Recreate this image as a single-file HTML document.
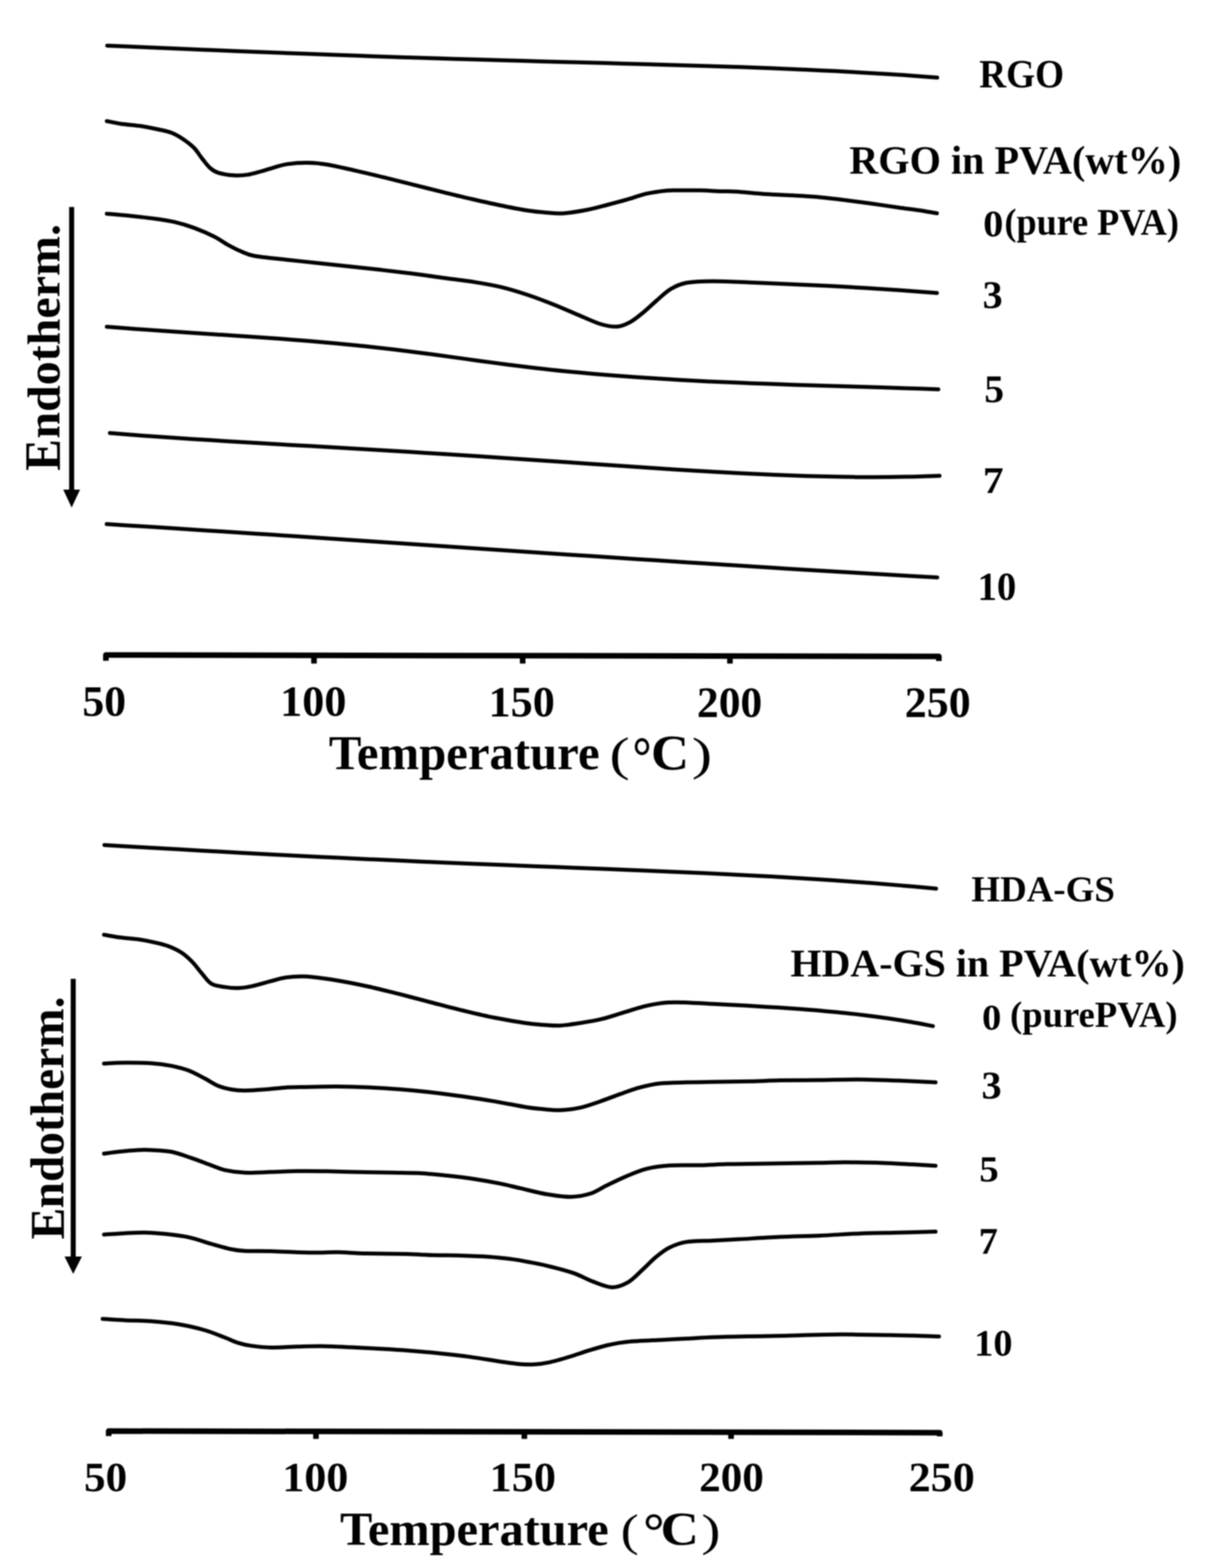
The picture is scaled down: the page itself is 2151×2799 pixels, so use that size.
<!DOCTYPE html>
<html><head><meta charset="utf-8"><title>DSC curves</title>
<style>html,body{margin:0;padding:0;background:#fff;}body{width:2151px;height:2799px;overflow:hidden;}svg{display:block;filter:blur(1.2px);}</style>
</head><body>
<svg width="2151" height="2799" viewBox="0 0 2151 2799" font-family='"Liberation Serif", "Times New Roman", serif' font-weight="bold" fill="#000">
<path d="M191.4,81.4 C201.3,81.8 230.9,83.1 250.7,83.9 C270.4,84.8 290.1,85.7 309.9,86.5 C329.6,87.3 349.4,88.2 369.2,89.0 C389.0,89.8 408.8,90.6 428.5,91.4 C448.2,92.2 467.9,93.0 487.7,93.8 C507.4,94.6 527.2,95.3 547.0,96.1 C566.8,96.8 586.5,97.6 606.2,98.3 C626.0,99.0 645.7,99.7 665.5,100.4 C685.3,101.1 705.0,101.8 724.8,102.4 C744.5,103.1 764.2,103.7 784.0,104.3 C803.8,104.9 823.5,105.5 843.3,106.1 C863.1,106.7 882.9,107.2 902.6,107.8 C922.4,108.3 942.0,108.9 961.8,109.4 C981.5,109.9 1001.3,110.5 1021.1,111.0 C1040.9,111.5 1060.7,112.1 1080.4,112.6 C1100.2,113.1 1119.8,113.7 1139.6,114.2 C1159.3,114.8 1179.1,115.3 1198.9,115.9 C1218.7,116.5 1238.5,117.1 1258.2,117.7 C1278.0,118.3 1297.7,118.9 1317.4,119.6 C1337.2,120.3 1357.0,121.0 1376.7,121.8 C1396.5,122.6 1416.2,123.4 1435.9,124.3 C1455.7,125.2 1475.4,126.1 1495.2,127.1 C1515.0,128.1 1534.8,129.2 1554.5,130.4 C1574.2,131.6 1594.0,132.8 1613.7,134.1 C1633.5,135.4 1663.1,137.8 1673.0,138.5" fill="none" stroke="#000" stroke-width="7.0" stroke-linecap="round" stroke-linejoin="round"/>
<path d="M190.7,216.2 C194.9,217.0 205.6,219.5 215.7,221.0 C225.8,222.5 240.7,223.4 251.4,225.0 C262.1,226.6 270.9,228.5 280.0,230.5 C289.1,232.5 298.3,233.8 306.2,236.9 C314.1,240.0 320.9,244.2 327.6,248.8 C334.4,253.4 341.1,258.6 346.7,264.3 C352.3,270.1 356.2,277.4 361.0,283.3 C365.8,289.2 370.4,295.8 375.2,300.0 C379.9,304.2 382.4,306.1 389.5,308.3 C396.6,310.5 409.4,312.5 418.1,313.1 C426.8,313.7 434.0,313.1 441.9,311.9 C449.8,310.7 457.8,308.2 465.7,306.0 C473.6,303.8 481.6,301.0 489.5,298.8 C497.4,296.6 503.4,294.3 513.3,292.9 C523.2,291.5 537.2,290.4 549.0,290.5 C560.8,290.6 569.5,291.3 583.8,293.7 C598.1,296.1 617.7,300.8 634.7,304.6 C651.7,308.4 668.6,312.6 685.6,316.7 C702.6,320.8 719.5,325.2 736.5,329.4 C753.5,333.6 770.3,337.9 787.3,342.1 C804.2,346.3 821.2,350.5 838.2,354.4 C855.2,358.3 872.1,362.2 889.1,365.7 C906.1,369.2 925.6,373.2 940.0,375.5 C954.4,377.8 964.6,378.6 975.7,379.5 C986.8,380.4 994.8,381.5 1006.7,380.7 C1018.6,379.9 1034.4,377.2 1047.1,374.8 C1059.8,372.4 1071.0,369.1 1082.9,366.0 C1094.8,362.9 1106.7,359.8 1118.6,356.4 C1130.5,353.0 1142.4,348.4 1154.3,345.7 C1166.2,343.0 1180.1,341.2 1190.0,340.2 C1199.9,339.2 1203.9,339.9 1213.8,339.8 C1223.7,339.7 1237.6,339.5 1249.5,339.8 C1261.4,340.1 1274.5,341.0 1285.2,341.4 C1295.9,341.8 1300.1,341.1 1313.8,342.0 C1327.5,342.9 1350.7,345.5 1367.6,346.6 C1384.5,347.7 1400.1,348.0 1415.2,348.8 C1430.3,349.6 1442.2,350.1 1458.1,351.5 C1474.0,352.9 1493.8,355.4 1510.5,357.5 C1527.2,359.6 1542.2,361.6 1558.1,363.8 C1574.0,366.0 1591.8,368.8 1605.7,370.7 C1619.6,372.6 1630.3,373.8 1641.4,375.5 C1652.5,377.2 1667.2,379.8 1672.4,380.7" fill="none" stroke="#000" stroke-width="7.0" stroke-linecap="round" stroke-linejoin="round"/>
<path d="M190.7,381.4 C196.8,382.0 213.5,383.3 227.6,384.8 C241.7,386.3 261.3,388.3 275.2,390.2 C289.1,392.1 299.1,393.4 311.0,396.2 C322.9,399.0 334.8,402.5 346.7,406.9 C358.6,411.3 372.5,417.4 382.4,422.4 C392.3,427.4 398.3,432.3 406.2,436.7 C414.1,441.1 422.1,445.3 430.0,448.6 C437.9,451.9 440.5,454.2 453.8,456.7 C467.1,459.2 491.2,461.3 510.0,463.4 C528.8,465.5 547.5,467.5 566.3,469.5 C585.0,471.5 603.8,473.4 622.5,475.4 C641.2,477.4 660.0,479.5 678.8,481.6 C697.5,483.8 716.2,485.9 735.0,488.3 C753.8,490.7 772.5,493.4 791.3,496.0 C810.1,498.6 830.3,500.8 847.6,503.6 C864.9,506.4 879.3,508.8 895.2,512.6 C911.1,516.5 927.0,521.4 942.9,526.7 C958.8,532.0 974.6,538.1 990.5,544.5 C1006.4,550.9 1024.2,559.0 1038.1,564.8 C1052.0,570.5 1063.1,576.0 1073.8,579.0 C1084.5,582.0 1093.5,583.6 1102.2,582.9 C1110.9,582.1 1117.8,578.9 1125.7,574.5 C1133.6,570.1 1142.0,562.9 1149.5,556.7 C1157.0,550.5 1163.1,544.3 1171.0,537.5 C1178.9,530.7 1188.0,521.5 1197.1,516.0 C1206.2,510.6 1213.0,507.2 1225.7,504.8 C1238.4,502.4 1254.2,502.0 1273.3,501.9 C1292.3,501.8 1316.3,503.4 1340.0,504.3 C1363.7,505.2 1386.8,506.1 1415.2,507.4 C1443.6,508.7 1478.8,510.3 1510.5,512.1 C1542.2,513.9 1578.7,516.3 1605.7,518.1 C1632.7,519.9 1661.3,522.1 1672.4,522.9" fill="none" stroke="#000" stroke-width="7.0" stroke-linecap="round" stroke-linejoin="round"/>
<path d="M190.7,583.3 C199.2,584.0 224.8,586.0 241.9,587.3 C259.0,588.5 276.1,589.6 293.1,590.8 C310.2,591.9 327.1,593.1 344.2,594.2 C361.2,595.3 378.3,596.5 395.4,597.6 C412.5,598.7 429.5,599.8 446.6,601.0 C463.7,602.2 480.7,603.4 497.8,604.6 C514.9,605.9 531.9,607.1 549.0,608.5 C566.1,609.9 583.2,611.3 600.2,612.9 C617.2,614.5 634.2,616.1 651.3,617.9 C668.3,619.7 685.4,621.7 702.5,623.7 C719.6,625.8 736.6,628.0 753.7,630.2 C770.8,632.4 787.8,634.8 804.9,637.1 C822.0,639.4 839.0,641.9 856.1,644.2 C873.2,646.5 890.2,648.8 907.3,651.0 C924.3,653.2 941.3,655.2 958.4,657.2 C975.5,659.2 992.5,661.0 1009.6,662.7 C1026.7,664.4 1043.7,665.9 1060.8,667.4 C1077.9,668.9 1094.9,670.3 1112.0,671.6 C1129.1,672.9 1146.1,674.0 1163.2,675.1 C1180.3,676.2 1197.4,677.2 1214.4,678.2 C1231.5,679.2 1248.5,680.1 1265.5,680.9 C1282.5,681.7 1299.6,682.4 1316.7,683.1 C1333.8,683.8 1350.8,684.5 1367.9,685.1 C1385.0,685.7 1402.0,686.3 1419.1,686.9 C1436.2,687.5 1453.2,688.1 1470.3,688.6 C1487.4,689.1 1504.5,689.6 1521.5,690.1 C1538.5,690.6 1555.5,691.1 1572.6,691.6 C1589.6,692.1 1606.7,692.7 1623.8,693.2 C1640.9,693.8 1666.5,694.6 1675.0,694.9" fill="none" stroke="#000" stroke-width="7.0" stroke-linecap="round" stroke-linejoin="round"/>
<path d="M196.2,773.1 C206.1,773.9 235.7,776.2 255.4,777.7 C275.1,779.2 294.9,780.5 314.7,781.8 C334.4,783.1 354.2,784.4 373.9,785.6 C393.6,786.8 413.4,788.0 433.1,789.2 C452.9,790.4 472.6,791.6 492.4,792.7 C512.1,793.9 531.9,795.0 551.6,796.1 C571.4,797.2 591.1,798.5 610.9,799.6 C630.6,800.8 650.4,801.8 670.1,803.0 C689.8,804.2 709.5,805.4 729.3,806.6 C749.0,807.8 768.9,809.0 788.6,810.3 C808.4,811.5 828.1,812.8 847.8,814.1 C867.5,815.4 887.2,816.7 907.0,818.0 C926.8,819.3 946.5,820.7 966.3,822.0 C986.0,823.3 1005.8,824.6 1025.5,826.0 C1045.2,827.4 1065.0,828.8 1084.7,830.1 C1104.5,831.4 1124.2,832.7 1144.0,834.0 C1163.8,835.3 1183.5,836.6 1203.2,837.9 C1222.9,839.1 1242.7,840.4 1262.4,841.5 C1282.2,842.6 1302.0,843.7 1321.7,844.7 C1341.5,845.7 1361.2,846.7 1380.9,847.5 C1400.7,848.3 1420.5,849.1 1440.2,849.7 C1460.0,850.3 1479.7,850.8 1499.4,851.1 C1519.1,851.4 1538.8,851.7 1558.6,851.7 C1578.3,851.7 1598.2,851.5 1617.9,851.1 C1637.7,850.7 1667.2,849.6 1677.1,849.3" fill="none" stroke="#000" stroke-width="7.0" stroke-linecap="round" stroke-linejoin="round"/>
<path d="M190.5,935.6 C200.4,936.2 230.0,938.1 249.8,939.3 C269.6,940.5 289.3,941.7 309.1,943.0 C328.9,944.3 348.6,945.6 368.4,946.9 C388.2,948.2 407.9,949.4 427.7,950.7 C447.5,952.0 467.2,953.3 487.0,954.6 C506.8,955.9 526.5,957.3 546.3,958.6 C566.1,959.9 585.8,961.2 605.6,962.5 C625.4,963.8 645.1,965.2 664.9,966.5 C684.7,967.8 704.4,969.2 724.2,970.5 C744.0,971.8 763.7,973.2 783.5,974.5 C803.3,975.8 823.0,977.2 842.8,978.5 C862.6,979.8 882.3,981.1 902.1,982.4 C921.9,983.7 941.6,985.1 961.4,986.4 C981.2,987.7 1000.9,989.1 1020.7,990.4 C1040.5,991.7 1060.2,993.0 1080.0,994.3 C1099.8,995.6 1119.5,996.9 1139.3,998.2 C1159.1,999.5 1178.8,1000.7 1198.6,1002.0 C1218.4,1003.3 1238.1,1004.5 1257.9,1005.8 C1277.7,1007.1 1297.4,1008.4 1317.2,1009.6 C1337.0,1010.9 1356.7,1012.1 1376.5,1013.3 C1396.3,1014.5 1416.0,1015.8 1435.8,1017.0 C1455.6,1018.2 1475.3,1019.3 1495.1,1020.5 C1514.9,1021.7 1534.6,1022.9 1554.4,1024.0 C1574.2,1025.2 1593.9,1026.3 1613.7,1027.4 C1633.5,1028.5 1663.1,1030.2 1673.0,1030.8" fill="none" stroke="#000" stroke-width="7.0" stroke-linecap="round" stroke-linejoin="round"/>
<path d="M186.4,1508.4 C196.3,1509.0 226.0,1510.8 245.8,1511.9 C265.6,1513.1 285.4,1514.2 305.2,1515.3 C325.0,1516.4 344.8,1517.6 364.6,1518.7 C384.4,1519.8 404.1,1520.9 423.9,1522.0 C443.7,1523.1 463.5,1524.2 483.3,1525.2 C503.1,1526.2 522.9,1527.2 542.7,1528.2 C562.5,1529.2 582.3,1530.1 602.1,1531.1 C621.9,1532.0 641.7,1533.0 661.5,1533.9 C681.3,1534.8 701.1,1535.7 720.9,1536.6 C740.7,1537.5 760.4,1538.3 780.2,1539.2 C800.0,1540.1 819.8,1540.9 839.6,1541.7 C859.4,1542.5 879.2,1543.3 899.0,1544.1 C918.8,1544.9 938.6,1545.6 958.4,1546.4 C978.2,1547.2 998.0,1547.9 1017.8,1548.7 C1037.6,1549.5 1057.4,1550.3 1077.2,1551.1 C1097.0,1551.9 1116.7,1552.6 1136.5,1553.4 C1156.3,1554.2 1176.1,1555.0 1195.9,1555.9 C1215.7,1556.8 1235.5,1557.7 1255.3,1558.6 C1275.1,1559.5 1294.9,1560.4 1314.7,1561.4 C1334.5,1562.4 1354.3,1563.4 1374.1,1564.5 C1393.9,1565.6 1413.7,1566.7 1433.5,1567.9 C1453.3,1569.1 1473.0,1570.4 1492.8,1571.7 C1512.6,1573.0 1532.4,1574.5 1552.2,1576.0 C1572.0,1577.5 1591.8,1579.2 1611.6,1580.9 C1631.4,1582.6 1661.1,1585.4 1671.0,1586.3" fill="none" stroke="#000" stroke-width="7.0" stroke-linecap="round" stroke-linejoin="round"/>
<path d="M185.7,1668.6 C190.3,1669.4 203.0,1671.9 213.1,1673.3 C223.2,1674.7 236.1,1675.2 246.4,1676.7 C256.7,1678.2 265.9,1680.0 275.0,1682.1 C284.1,1684.2 292.9,1686.1 301.2,1689.3 C309.5,1692.5 317.9,1696.4 325.0,1701.2 C332.1,1706.0 338.1,1711.8 344.0,1717.9 C349.9,1724.1 355.1,1731.8 360.7,1738.1 C366.3,1744.4 370.6,1752.0 377.4,1756.0 C384.1,1760.0 393.3,1760.6 401.2,1761.9 C409.1,1763.2 417.1,1764.0 425.0,1763.8 C432.9,1763.6 438.9,1762.8 448.8,1760.7 C458.7,1758.6 474.6,1753.8 484.5,1751.2 C494.4,1748.6 498.4,1746.6 508.3,1745.2 C518.2,1743.8 528.6,1742.3 544.0,1743.1 C559.4,1743.9 581.8,1747.0 600.6,1750.0 C619.5,1753.0 638.2,1756.9 657.1,1761.0 C676.0,1765.1 694.8,1770.0 713.7,1774.7 C732.6,1779.5 751.4,1784.6 770.3,1789.5 C789.2,1794.4 808.0,1799.5 826.9,1804.0 C845.8,1808.5 864.5,1813.0 883.4,1816.8 C902.2,1820.5 925.4,1824.4 940.0,1826.5 C954.6,1828.6 961.1,1828.8 971.0,1829.5 C980.9,1830.2 988.8,1831.2 999.5,1830.7 C1010.2,1830.2 1022.7,1828.3 1035.2,1826.3 C1047.7,1824.3 1061.5,1822.1 1074.6,1818.9 C1087.7,1815.7 1100.9,1811.0 1114.0,1807.1 C1127.1,1803.2 1140.2,1798.5 1153.3,1795.6 C1166.4,1792.7 1179.6,1790.5 1192.7,1789.6 C1205.8,1788.6 1219.0,1789.5 1232.1,1789.9 C1245.2,1790.3 1258.4,1791.3 1271.5,1792.0 C1284.6,1792.7 1297.7,1793.3 1310.8,1794.0 C1323.9,1794.7 1337.1,1795.4 1350.2,1796.2 C1363.3,1797.0 1376.5,1797.8 1389.6,1798.6 C1402.7,1799.4 1415.9,1800.3 1429.0,1801.3 C1442.1,1802.3 1455.2,1803.3 1468.3,1804.5 C1481.4,1805.7 1494.6,1806.8 1507.7,1808.2 C1520.8,1809.6 1534.0,1811.1 1547.1,1812.7 C1560.2,1814.3 1573.4,1816.1 1586.5,1818.0 C1599.6,1819.9 1612.7,1822.0 1625.8,1824.3 C1638.9,1826.6 1658.6,1830.4 1665.2,1831.6" fill="none" stroke="#000" stroke-width="7.0" stroke-linecap="round" stroke-linejoin="round"/>
<path d="M185.7,1898.6 C191.8,1898.3 208.5,1897.2 222.6,1897.1 C236.7,1897.0 256.3,1897.0 270.2,1897.9 C284.1,1898.8 294.9,1900.4 306.0,1902.6 C317.1,1904.8 327.0,1907.2 336.9,1911.0 C346.8,1914.8 356.8,1920.7 365.5,1925.2 C374.2,1929.8 381.4,1935.0 389.3,1938.3 C397.2,1941.6 405.2,1943.4 413.1,1944.8 C421.0,1946.2 427.0,1946.7 436.9,1946.7 C446.8,1946.7 460.7,1945.7 472.6,1944.8 C484.5,1943.9 496.4,1942.1 508.3,1941.4 C520.2,1940.7 528.6,1940.7 544.0,1940.4 C559.4,1940.1 581.8,1939.5 600.6,1939.6 C619.5,1939.7 638.2,1940.2 657.1,1941.0 C676.0,1941.8 694.8,1943.0 713.7,1944.5 C732.6,1946.0 751.4,1947.8 770.3,1949.9 C789.2,1952.0 808.0,1954.5 826.9,1957.2 C845.8,1959.9 864.5,1962.9 883.4,1966.1 C902.2,1969.3 925.8,1974.2 940.0,1976.5 C954.2,1978.8 958.7,1978.9 968.6,1979.8 C978.5,1980.7 988.4,1982.1 999.5,1981.7 C1010.6,1981.3 1023.3,1980.0 1035.2,1977.4 C1047.1,1974.8 1059.1,1970.2 1071.0,1966.2 C1082.9,1962.2 1094.8,1957.3 1106.7,1953.1 C1118.6,1948.9 1130.5,1944.4 1142.4,1941.2 C1154.3,1938.0 1164.2,1935.5 1178.1,1934.0 C1192.0,1932.5 1209.8,1932.6 1225.7,1932.1 C1241.6,1931.6 1254.2,1931.5 1273.3,1931.2 C1292.3,1930.9 1320.3,1930.6 1340.0,1930.2 C1359.7,1929.8 1370.9,1929.0 1391.4,1928.6 C1411.9,1928.2 1439.1,1928.2 1462.9,1927.9 C1486.7,1927.6 1510.5,1926.7 1534.3,1926.9 C1558.1,1927.1 1583.1,1928.1 1605.7,1929.0 C1628.3,1929.9 1659.3,1931.6 1670.0,1932.1" fill="none" stroke="#000" stroke-width="7.0" stroke-linecap="round" stroke-linejoin="round"/>
<path d="M185.7,2059.3 C189.9,2058.8 200.6,2057.1 210.7,2056.0 C220.8,2054.9 236.5,2053.4 246.4,2052.9 C256.3,2052.4 260.3,2052.4 270.2,2052.9 C280.1,2053.4 294.1,2053.6 306.0,2056.0 C317.9,2058.4 329.8,2063.1 341.7,2067.1 C353.6,2071.1 367.5,2076.6 377.4,2080.2 C387.3,2083.8 391.3,2086.4 401.2,2088.6 C411.1,2090.8 423.0,2092.7 436.9,2093.3 C450.8,2093.9 468.6,2092.6 484.5,2092.1 C500.4,2091.6 515.6,2090.8 532.1,2090.6 C548.6,2090.4 563.3,2090.5 583.8,2090.8 C604.3,2091.1 635.4,2092.2 655.2,2092.6 C675.1,2093.0 687.0,2093.0 702.9,2093.3 C718.8,2093.6 734.6,2093.4 750.5,2094.3 C766.4,2095.2 782.2,2096.9 798.1,2098.6 C814.0,2100.3 829.8,2102.1 845.7,2104.5 C861.6,2106.9 879.4,2110.1 893.3,2112.9 C907.2,2115.7 915.3,2118.1 929.0,2121.2 C942.7,2124.3 960.8,2129.2 975.7,2131.7 C990.6,2134.2 1005.5,2136.6 1018.6,2136.4 C1031.7,2136.2 1043.6,2133.9 1054.3,2130.5 C1065.0,2127.1 1072.2,2121.4 1082.9,2116.2 C1093.6,2111.0 1106.7,2104.5 1118.6,2099.5 C1130.5,2094.5 1141.6,2089.6 1154.3,2086.4 C1167.0,2083.2 1178.9,2081.6 1194.8,2080.5 C1210.7,2079.4 1232.5,2080.4 1249.5,2080.0 C1266.5,2079.6 1282.0,2078.5 1297.1,2078.1 C1312.2,2077.7 1324.3,2077.7 1340.0,2077.5 C1355.7,2077.3 1370.9,2077.0 1391.4,2076.7 C1411.9,2076.4 1443.1,2076.0 1462.9,2075.7 C1482.8,2075.4 1490.7,2074.7 1510.5,2074.8 C1530.3,2074.9 1562.1,2075.6 1581.9,2076.2 C1601.7,2076.8 1614.8,2077.8 1629.5,2078.6 C1644.2,2079.4 1663.2,2080.6 1670.0,2081.0" fill="none" stroke="#000" stroke-width="7.0" stroke-linecap="round" stroke-linejoin="round"/>
<path d="M185.7,2203.8 C191.8,2203.4 210.5,2202.0 222.6,2201.4 C234.7,2200.8 246.4,2200.0 258.3,2200.2 C270.2,2200.4 280.9,2201.2 294.0,2202.6 C307.1,2204.0 323.0,2205.6 336.9,2208.6 C350.8,2211.6 364.7,2216.9 377.4,2220.5 C390.1,2224.1 403.2,2227.9 413.1,2230.0 C423.0,2232.1 425.0,2232.3 436.9,2232.9 C448.8,2233.5 468.6,2233.2 484.5,2233.6 C500.4,2234.0 517.0,2235.1 532.1,2235.5 C547.2,2235.9 563.2,2236.0 575.0,2236.0 C586.8,2236.0 589.5,2235.0 602.9,2235.3 C616.3,2235.6 634.6,2237.1 655.2,2237.6 C675.8,2238.1 706.9,2238.1 726.7,2238.6 C746.6,2239.1 758.4,2240.1 774.3,2240.5 C790.2,2240.9 806.0,2240.8 821.9,2241.3 C837.8,2241.8 853.6,2242.2 869.5,2243.3 C885.4,2244.4 905.4,2246.6 917.1,2248.1 C928.9,2249.6 930.2,2250.2 940.0,2252.1 C949.8,2254.0 961.8,2255.9 975.7,2259.3 C989.6,2262.7 1009.4,2267.6 1023.3,2272.4 C1037.2,2277.2 1047.5,2283.7 1059.0,2287.9 C1070.5,2292.2 1082.1,2297.7 1092.4,2297.9 C1102.7,2298.1 1111.9,2294.2 1121.0,2289.0 C1130.1,2283.8 1138.8,2273.9 1147.1,2266.4 C1155.4,2258.9 1163.0,2250.4 1171.0,2243.8 C1179.0,2237.2 1185.7,2231.6 1194.8,2227.1 C1203.9,2222.6 1212.6,2219.0 1225.7,2216.9 C1238.8,2214.8 1257.6,2215.3 1273.3,2214.5 C1289.0,2213.7 1300.3,2213.2 1320.0,2212.1 C1339.7,2211.0 1367.6,2209.2 1391.4,2208.1 C1415.2,2207.0 1439.1,2206.7 1462.9,2205.7 C1486.7,2204.7 1510.5,2202.8 1534.3,2201.9 C1558.1,2201.0 1583.1,2200.8 1605.7,2200.2 C1628.3,2199.6 1659.3,2198.9 1670.0,2198.6" fill="none" stroke="#000" stroke-width="7.0" stroke-linecap="round" stroke-linejoin="round"/>
<path d="M183.3,2354.3 C189.9,2354.7 208.1,2356.0 222.6,2356.7 C237.1,2357.4 254.3,2357.4 270.2,2358.6 C286.1,2359.8 302.0,2361.2 317.9,2363.8 C333.8,2366.5 351.6,2370.5 365.5,2374.5 C379.4,2378.5 391.3,2383.8 401.2,2387.6 C411.1,2391.4 417.1,2394.6 425.0,2397.1 C432.9,2399.6 438.9,2401.0 448.8,2402.4 C458.7,2403.8 470.6,2405.3 484.5,2405.5 C498.4,2405.7 517.0,2404.2 532.1,2403.8 C547.2,2403.4 559.1,2402.9 575.0,2403.1 C590.9,2403.3 610.1,2404.3 627.7,2405.1 C645.3,2405.9 662.9,2406.7 680.5,2407.7 C698.1,2408.7 715.6,2409.8 733.2,2411.2 C750.8,2412.6 768.3,2414.1 785.9,2415.9 C803.5,2417.7 821.1,2419.7 838.7,2422.1 C856.3,2424.5 876.7,2428.0 891.4,2430.2 C906.1,2432.3 916.7,2434.1 927.1,2435.0 C937.5,2435.9 945.0,2435.9 953.9,2435.4 C962.8,2434.9 970.3,2434.0 980.7,2431.8 C991.1,2429.6 1004.5,2425.6 1016.4,2422.0 C1028.3,2418.4 1040.2,2414.0 1052.1,2410.4 C1064.0,2406.8 1076.6,2403.0 1087.9,2400.5 C1099.2,2398.0 1105.0,2396.6 1120.0,2395.2 C1135.0,2393.8 1160.5,2392.8 1178.1,2391.9 C1195.7,2391.0 1209.8,2390.3 1225.7,2389.5 C1241.6,2388.7 1254.2,2387.8 1273.3,2387.1 C1292.3,2386.4 1319.7,2385.9 1340.0,2385.5 C1360.3,2385.1 1368.1,2385.1 1395.2,2384.5 C1422.3,2383.9 1466.7,2382.2 1502.4,2382.1 C1538.1,2382.0 1580.5,2383.2 1609.5,2383.8 C1638.5,2384.4 1665.1,2385.4 1676.2,2385.7" fill="none" stroke="#000" stroke-width="7.0" stroke-linecap="round" stroke-linejoin="round"/>
<polyline points="189.0,1179.5 189.0,1169.2 1676.0,1171.7 1676.0,1180.0" fill="none" stroke="#000" stroke-width="10.0" stroke-linejoin="round"/><line x1="560.5" y1="1169.8" x2="560.5" y2="1184.5" stroke="#000" stroke-width="10.0"/><line x1="933.0" y1="1170.5" x2="933.0" y2="1184.5" stroke="#000" stroke-width="10.0"/><line x1="1303.0" y1="1171.1" x2="1303.0" y2="1184.5" stroke="#000" stroke-width="10.0"/>
<polyline points="194.0,2563.5 194.0,2554.5 1677.5,2557.4 1677.5,2564.0" fill="none" stroke="#000" stroke-width="10.0" stroke-linejoin="round"/><line x1="564.0" y1="2555.2" x2="564.0" y2="2568.5" stroke="#000" stroke-width="10.0"/><line x1="936.0" y1="2556.0" x2="936.0" y2="2568.5" stroke="#000" stroke-width="10.0"/><line x1="1305.0" y1="2556.7" x2="1305.0" y2="2568.5" stroke="#000" stroke-width="10.0"/>
<text x="1748.00" y="156.00" font-size="72.05" textLength="151.53" lengthAdjust="spacingAndGlyphs">RGO</text>
<text x="1516.00" y="310.10" font-size="72.00" textLength="592.66" lengthAdjust="spacingAndGlyphs">RGO in PVA(wt%)</text>
<text x="1754.00" y="549.50" font-size="70.37" textLength="35.77" lengthAdjust="spacingAndGlyphs">3</text>
<text x="1757.00" y="718.00" font-size="70.39" textLength="35.27" lengthAdjust="spacingAndGlyphs">5</text>
<text x="1754.50" y="880.00" font-size="68.08" textLength="36.97" lengthAdjust="spacingAndGlyphs">7</text>
<text x="1745.00" y="1071.00" font-size="71.11" textLength="69.14" lengthAdjust="spacingAndGlyphs">10</text>
<text x="147.00" y="1278.00" font-size="79.03" textLength="78.18" lengthAdjust="spacingAndGlyphs">50</text>
<text x="500.00" y="1278.00" font-size="79.03" textLength="118.35" lengthAdjust="spacingAndGlyphs">100</text>
<text x="872.00" y="1279.25" font-size="77.88" textLength="118.35" lengthAdjust="spacingAndGlyphs">150</text>
<text x="1244.00" y="1279.50" font-size="78.26" textLength="116.64" lengthAdjust="spacingAndGlyphs">200</text>
<text x="1615.00" y="1279.50" font-size="78.26" textLength="117.70" lengthAdjust="spacingAndGlyphs">250</text>
<text x="1734.00" y="1609.00" font-size="66.02" textLength="256.18" lengthAdjust="spacingAndGlyphs">HDA-GS</text>
<text x="1411.00" y="1743.20" font-size="69.50" textLength="704.12" lengthAdjust="spacingAndGlyphs">HDA-GS in PVA(wt%)</text>
<text x="1752.00" y="1961.00" font-size="69.16" textLength="35.95" lengthAdjust="spacingAndGlyphs">3</text>
<text x="1748.00" y="2109.00" font-size="66.08" textLength="34.78" lengthAdjust="spacingAndGlyphs">5</text>
<text x="1747.00" y="2238.10" font-size="66.79" textLength="34.24" lengthAdjust="spacingAndGlyphs">7</text>
<text x="1739.00" y="2419.50" font-size="68.31" textLength="68.28" lengthAdjust="spacingAndGlyphs">10</text>
<text x="150.00" y="2662.00" font-size="73.60" textLength="76.92" lengthAdjust="spacingAndGlyphs">50</text>
<text x="504.00" y="2662.00" font-size="73.60" textLength="117.82" lengthAdjust="spacingAndGlyphs">100</text>
<text x="874.00" y="2662.00" font-size="73.60" textLength="118.38" lengthAdjust="spacingAndGlyphs">150</text>
<text x="1248.00" y="2662.00" font-size="73.60" textLength="115.42" lengthAdjust="spacingAndGlyphs">200</text>
<text x="1622.00" y="2662.00" font-size="73.60" textLength="118.07" lengthAdjust="spacingAndGlyphs">250</text>
<text><tspan x="1755.00" y="421.50" font-size="66.86" textLength="36.07" lengthAdjust="spacingAndGlyphs">0</tspan><tspan x="1793.00" y="418.80" font-size="67.50" textLength="311.39" lengthAdjust="spacingAndGlyphs">(pure PVA)</tspan></text>
<text><tspan x="587.00" y="1373.00" font-size="87.02" textLength="483.27" lengthAdjust="spacingAndGlyphs">Temperature</tspan> <tspan x="1088.00" y="1374.50" font-size="85.64" font-weight="normal" textLength="36.05" lengthAdjust="spacingAndGlyphs">(</tspan><tspan x="1129.00" y="1383.50" font-size="99.86" textLength="34.03" lengthAdjust="spacingAndGlyphs">°</tspan><tspan x="1162.00" y="1373.00" font-size="89.59" textLength="68.04" lengthAdjust="spacingAndGlyphs">C</tspan><tspan x="1235.00" y="1373.50" font-size="83.41" font-weight="normal" textLength="36.05" lengthAdjust="spacingAndGlyphs">)</tspan></text>
<text transform="translate(107.00,840.50) rotate(-90)"><tspan x="0.00" y="0.00" font-size="91.87" textLength="56.69" lengthAdjust="spacingAndGlyphs">E</tspan><tspan x="57.50" y="-1.00" font-size="83.15" textLength="383.05" lengthAdjust="spacingAndGlyphs">ndotherm.</tspan></text>
<text><tspan x="1753.00" y="1837.50" font-size="64.78" textLength="34.40" lengthAdjust="spacingAndGlyphs">0</tspan> <tspan x="1803.00" y="1832.50" font-size="65.50" textLength="299.12" lengthAdjust="spacingAndGlyphs">(purePVA)</tspan></text>
<text><tspan x="607.00" y="2758.00" font-size="83.88" textLength="479.71" lengthAdjust="spacingAndGlyphs">Temperature</tspan> <tspan x="1108.00" y="2759.00" font-size="80.73" font-weight="normal" textLength="32.11" lengthAdjust="spacingAndGlyphs">(</tspan><tspan x="1148.00" y="2764.50" font-size="92.09" textLength="38.30" lengthAdjust="spacingAndGlyphs">°</tspan><tspan x="1179.00" y="2758.00" font-size="85.57" textLength="68.56" lengthAdjust="spacingAndGlyphs">C</tspan><tspan x="1252.00" y="2759.00" font-size="80.73" font-weight="normal" textLength="34.07" lengthAdjust="spacingAndGlyphs">)</tspan></text>
<text transform="translate(113.70,2212.50) rotate(-90)"><tspan x="0.00" y="0.00" font-size="87.52" textLength="56.70" lengthAdjust="spacingAndGlyphs">E</tspan><tspan x="55.50" y="-0.50" font-size="83.91" textLength="378.13" lengthAdjust="spacingAndGlyphs">ndotherm.</tspan></text>
<line x1="127.9" y1="369.6" x2="127.9" y2="876.0" stroke="#000" stroke-width="9.0"/><polygon points="112.9,874.0 142.9,874.0 127.9,906.0" fill="#000"/>
<line x1="130.7" y1="1747.3" x2="130.7" y2="2245.0" stroke="#000" stroke-width="9.0"/><polygon points="115.2,2243.0 146.2,2243.0 130.7,2274.0" fill="#000"/>
</svg>
</body></html>
